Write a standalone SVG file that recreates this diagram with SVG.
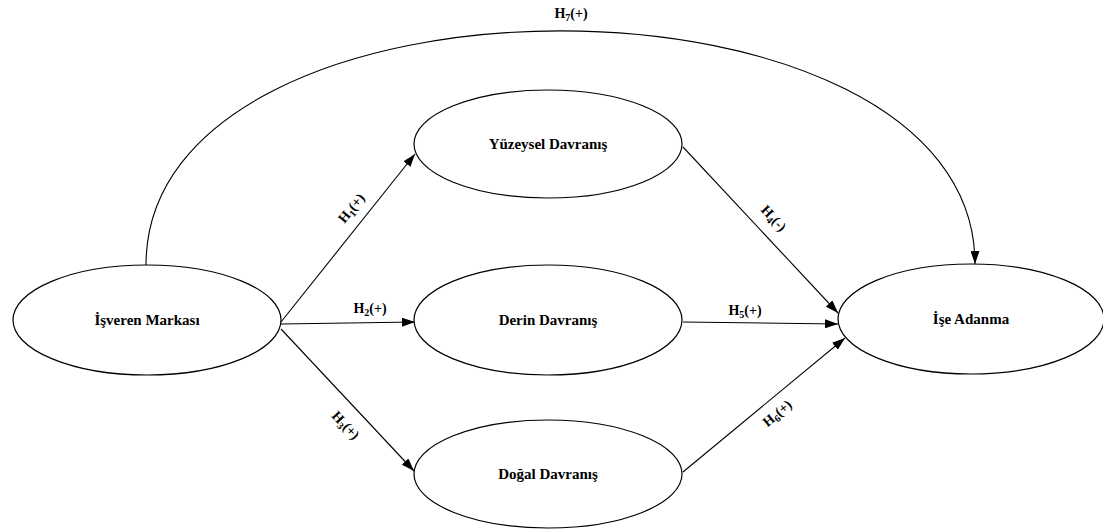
<svg xmlns="http://www.w3.org/2000/svg" width="1103" height="531" viewBox="0 0 1103 531">
<style>
.node ellipse{fill:#fff;stroke:#000;stroke-width:1.2}
.node text{font-family:"Liberation Serif",serif;font-weight:bold;font-size:15px;text-anchor:middle}
.edge{fill:none;stroke:#000;stroke-width:1.1}
.lbl{font-family:"Liberation Serif",serif;font-weight:bold;font-size:14px;text-anchor:middle}
.sub{font-size:10px}
</style>
<defs>
<marker id="ah" markerUnits="userSpaceOnUse" markerWidth="13" markerHeight="9" refX="13" refY="4.5" orient="auto">
<path d="M0,0 L13,4.5 L0,9 z" fill="#000"/>
</marker>
</defs>
<rect width="1103" height="531" fill="#fff"/>
<g id="connectors">
<path class="edge" d="M146,265 C146,-47 975,-47 975,264" marker-end="url(#ah)"/>
<line class="edge" x1="281" y1="322" x2="415" y2="154" marker-end="url(#ah)"/>
<line class="edge" x1="281" y1="324" x2="415" y2="322" marker-end="url(#ah)"/>
<line class="edge" x1="281" y1="329" x2="414" y2="471" marker-end="url(#ah)"/>
<line class="edge" x1="683" y1="147" x2="838" y2="313" marker-end="url(#ah)"/>
<line class="edge" x1="683" y1="322" x2="838" y2="324" marker-end="url(#ah)"/>
<line class="edge" x1="683" y1="472" x2="845" y2="338" marker-end="url(#ah)"/>
<text class="lbl" x="571" y="18">H<tspan class="sub" dy="3">7</tspan><tspan dy="-3">(+)</tspan></text>
<text class="lbl" transform="translate(351,208) rotate(-51)" y="5">H<tspan class="sub" dy="3">1</tspan><tspan dy="-3">(+)</tspan></text>
<text class="lbl" x="370" y="313">H<tspan class="sub" dy="3">2</tspan><tspan dy="-3">(+)</tspan></text>
<text class="lbl" transform="translate(346,425) rotate(46.5)" y="5">H<tspan class="sub" dy="3">3</tspan><tspan dy="-3">(+)</tspan></text>
<text class="lbl" transform="translate(774,218) rotate(47)" y="5">H<tspan class="sub" dy="3">4</tspan><tspan dy="-3">(-)</tspan></text>
<text class="lbl" x="745" y="315">H<tspan class="sub" dy="3">5</tspan><tspan dy="-3">(+)</tspan></text>
<text class="lbl" transform="translate(777,413) rotate(-40)" y="5">H<tspan class="sub" dy="3">6</tspan><tspan dy="-3">(+)</tspan></text>
</g>
<g id="isveren" class="node">
<ellipse cx="147" cy="320" rx="134" ry="55"/>
<text x="147" y="325">İşveren Markası</text>
</g>
<g id="yuzeysel" class="node">
<ellipse cx="548" cy="144" rx="134" ry="54"/>
<text x="548" y="149">Yüzeysel Davranış</text>
</g>
<g id="derin" class="node">
<ellipse cx="548" cy="320" rx="134" ry="55"/>
<text x="548" y="325">Derin Davranış</text>
</g>
<g id="dogal" class="node">
<ellipse cx="548" cy="474" rx="134" ry="54"/>
<text x="548" y="479">Doğal Davranış</text>
</g>
<g id="ise" class="node">
<ellipse cx="971" cy="319" rx="133" ry="55"/>
<text x="971" y="324">İşe Adanma</text>
</g>
</svg>
